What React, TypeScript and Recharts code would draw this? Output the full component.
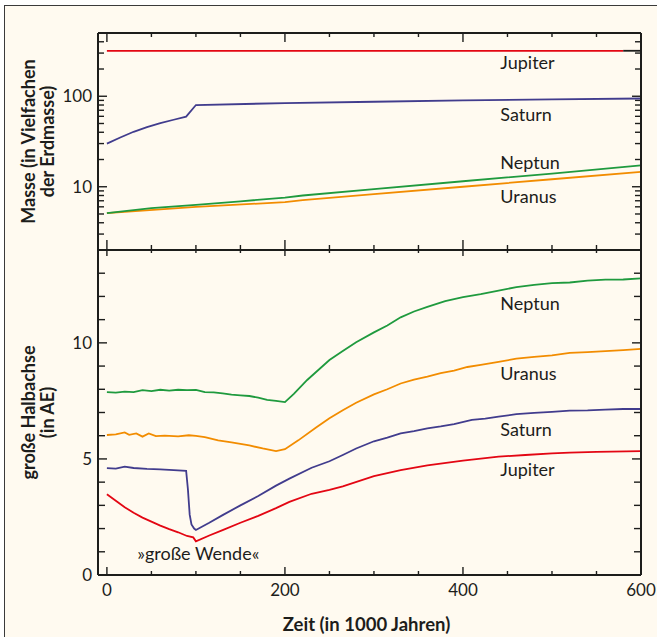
import React from "react";
import {
  LineChart,
  Line,
  XAxis,
  YAxis,
  ReferenceDot,
  ReferenceLine,
} from "recharts";

// time axis, 1000 years
const xTicks = [0, 50, 100, 150, 200, 250, 300, 350, 400, 450, 500, 550, 600];
const xMajorTicks = [0, 200, 400, 600];

// top panel: mass in earth masses (log)
const massTicks = [3, 4, 5, 6, 7, 8, 9, 10, 20, 30, 40, 50, 60, 70, 80, 90, 100, 200, 300, 400];
const massMajorTicks = [10, 100];

const jupiterMass = [
  { x: 0, v: 318 },
  { x: 580, v: 318 },
];
const jupiterMassEnd = [
  { x: 580, v: 318 },
  { x: 600, v: 318 },
];
const saturnMass = [
  { x: 0, v: 30 }, { x: 15, v: 35 }, { x: 30, v: 40.5 }, { x: 45, v: 45.5 },
  { x: 60, v: 50.5 }, { x: 75, v: 55 }, { x: 89, v: 59.5 }, { x: 100, v: 80 },
  { x: 200, v: 84 }, { x: 300, v: 87 }, { x: 400, v: 90 }, { x: 500, v: 92.5 },
  { x: 600, v: 94.5 },
];
const neptunMass = [
  { x: 0, v: 5.1 }, { x: 50, v: 5.8 }, { x: 100, v: 6.3 }, { x: 150, v: 6.9 },
  { x: 200, v: 7.6 }, { x: 220, v: 8.0 }, { x: 300, v: 9.4 }, { x: 400, v: 11.5 },
  { x: 500, v: 14.0 }, { x: 600, v: 17.2 },
];
const uranusMass = [
  { x: 0, v: 5.1 }, { x: 100, v: 6.0 }, { x: 200, v: 6.75 }, { x: 220, v: 7.1 },
  { x: 300, v: 8.3 }, { x: 400, v: 10.0 }, { x: 500, v: 12.1 }, { x: 600, v: 14.6 },
];

// bottom panel: semi-major axis in AU
const auTicks = [1, 2, 3, 4, 5, 6, 7, 8, 9, 10, 11, 12, 13];
const auMajorTicks = [5, 10];
const auLabelTicks = [0, 5, 10];

const neptunAxis = [
  { x: 0, v: 7.88 }, { x: 10, v: 7.86 }, { x: 20, v: 7.9 }, { x: 30, v: 7.88 },
  { x: 40, v: 7.96 }, { x: 50, v: 7.92 }, { x: 60, v: 7.98 }, { x: 70, v: 7.94 },
  { x: 80, v: 7.98 }, { x: 90, v: 7.96 }, { x: 100, v: 7.97 }, { x: 110, v: 7.88 },
  { x: 120, v: 7.87 }, { x: 130, v: 7.82 }, { x: 140, v: 7.77 }, { x: 150, v: 7.74 },
  { x: 160, v: 7.71 }, { x: 170, v: 7.64 }, { x: 180, v: 7.54 }, { x: 190, v: 7.5 },
  { x: 200, v: 7.45 }, { x: 210, v: 7.8 }, { x: 225, v: 8.4 }, { x: 250, v: 9.26 },
  { x: 265, v: 9.65 }, { x: 280, v: 10.03 }, { x: 300, v: 10.45 }, { x: 315, v: 10.75 },
  { x: 330, v: 11.1 }, { x: 345, v: 11.35 }, { x: 360, v: 11.55 }, { x: 380, v: 11.8 },
  { x: 400, v: 11.97 }, { x: 420, v: 12.1 }, { x: 440, v: 12.25 }, { x: 460, v: 12.4 },
  { x: 480, v: 12.5 }, { x: 500, v: 12.57 }, { x: 520, v: 12.6 }, { x: 540, v: 12.68 },
  { x: 560, v: 12.72 }, { x: 580, v: 12.73 }, { x: 600, v: 12.78 },
];
const uranusAxis = [
  { x: 0, v: 6.03 }, { x: 10, v: 6.06 }, { x: 20, v: 6.14 }, { x: 25, v: 6.04 },
  { x: 33, v: 6.1 }, { x: 40, v: 5.96 }, { x: 47, v: 6.1 }, { x: 55, v: 5.98 },
  { x: 65, v: 6.0 }, { x: 80, v: 5.97 }, { x: 92, v: 6.02 }, { x: 100, v: 5.99 },
  { x: 110, v: 5.94 }, { x: 125, v: 5.8 }, { x: 140, v: 5.71 }, { x: 160, v: 5.58 },
  { x: 175, v: 5.45 }, { x: 190, v: 5.34 }, { x: 200, v: 5.42 }, { x: 215, v: 5.8 },
  { x: 235, v: 6.35 }, { x: 250, v: 6.75 }, { x: 265, v: 7.1 }, { x: 280, v: 7.42 },
  { x: 300, v: 7.78 }, { x: 315, v: 8.0 }, { x: 330, v: 8.25 }, { x: 345, v: 8.42 },
  { x: 360, v: 8.55 }, { x: 375, v: 8.7 }, { x: 390, v: 8.8 }, { x: 405, v: 8.96 },
  { x: 420, v: 9.05 }, { x: 440, v: 9.18 }, { x: 460, v: 9.32 }, { x: 480, v: 9.4 },
  { x: 500, v: 9.46 }, { x: 520, v: 9.57 }, { x: 540, v: 9.6 }, { x: 560, v: 9.64 },
  { x: 580, v: 9.69 }, { x: 600, v: 9.74 },
];
const saturnAxis = [
  { x: 0, v: 4.6 }, { x: 10, v: 4.58 }, { x: 20, v: 4.67 }, { x: 30, v: 4.61 },
  { x: 45, v: 4.57 }, { x: 60, v: 4.55 }, { x: 75, v: 4.52 }, { x: 89, v: 4.49 },
  { x: 91, v: 3.7 }, { x: 93, v: 2.6 }, { x: 95, v: 2.18 }, { x: 98, v: 2.0 },
  { x: 100, v: 1.94 }, { x: 115, v: 2.25 }, { x: 130, v: 2.58 }, { x: 150, v: 3.0 },
  { x: 170, v: 3.4 }, { x: 190, v: 3.85 }, { x: 205, v: 4.15 }, { x: 230, v: 4.62 },
  { x: 250, v: 4.9 }, { x: 265, v: 5.17 }, { x: 280, v: 5.45 }, { x: 300, v: 5.76 },
  { x: 315, v: 5.92 }, { x: 330, v: 6.1 }, { x: 345, v: 6.2 }, { x: 360, v: 6.32 },
  { x: 375, v: 6.4 }, { x: 390, v: 6.5 }, { x: 410, v: 6.68 }, { x: 425, v: 6.74 },
  { x: 440, v: 6.82 }, { x: 460, v: 6.93 }, { x: 480, v: 6.98 }, { x: 500, v: 7.03 },
  { x: 520, v: 7.08 }, { x: 540, v: 7.09 }, { x: 560, v: 7.12 }, { x: 580, v: 7.15 },
  { x: 600, v: 7.15 },
];
const jupiterAxis = [
  { x: 0, v: 3.48 }, { x: 10, v: 3.2 }, { x: 20, v: 2.92 }, { x: 30, v: 2.68 },
  { x: 40, v: 2.47 }, { x: 50, v: 2.3 }, { x: 60, v: 2.13 }, { x: 70, v: 1.98 },
  { x: 80, v: 1.84 }, { x: 90, v: 1.68 }, { x: 97, v: 1.62 }, { x: 100, v: 1.45 },
  { x: 115, v: 1.7 }, { x: 130, v: 1.93 }, { x: 150, v: 2.25 }, { x: 170, v: 2.55 },
  { x: 190, v: 2.88 }, { x: 205, v: 3.15 }, { x: 230, v: 3.5 }, { x: 250, v: 3.67 },
  { x: 265, v: 3.82 }, { x: 300, v: 4.26 }, { x: 330, v: 4.52 }, { x: 360, v: 4.72 },
  { x: 400, v: 4.93 }, { x: 440, v: 5.1 }, { x: 470, v: 5.17 }, { x: 500, v: 5.24 },
  { x: 520, v: 5.27 }, { x: 550, v: 5.3 }, { x: 600, v: 5.34 },
];

// label anchors (x, value)
const massLabels = [
  { name: "Jupiter", x: 442, v: 237 },
  { name: "Saturn", x: 442, v: 63 },
  { name: "Neptun", x: 442, v: 18.8 },
  { name: "Uranus", x: 442, v: 8.0 },
];
const auLabels = [
  { name: "Neptun", x: 442, v: 11.7 },
  { name: "Uranus", x: 442, v: 8.72 },
  { name: "Saturn", x: 442, v: 6.3 },
  { name: "Jupiter", x: 442, v: 4.55 },
];
const turnLabel = { name: "»große Wende«", x: 34, v: 0.95 };

const RED = "#e30613";
const PURPLE = "#413c8d";
const GREEN = "#1f9a3e";
const ORANGE = "#f28c00";
const INK = "#1d1d1b";
const FONT = "Lato, sans-serif";
const W = 657;
const X_DOMAIN = [-10, 600];

const frame = { stroke: INK, strokeWidth: 2 };
const tickText = { fill: INK, fontSize: 17, fontFamily: FONT };

function YTitle(props: any) {
  const { viewBox, lines } = props;
  const cy = viewBox.y + viewBox.height / 2;
  return (
    <g>
      {lines.map((t: string, i: number) => (
        <text
          key={t}
          x={28 + i * 19}
          y={cy}
          transform={`rotate(-90 ${28 + i * 19} ${cy})`}
          textAnchor="middle"
          dominantBaseline="central"
          fontSize={18}
          fontWeight={700}
          fill={INK}
          fontFamily={FONT}
        >
          {t}
        </text>
      ))}
    </g>
  );
}

function XTitle(props: any) {
  const { viewBox } = props;
  return (
    <text
      x={viewBox.x + viewBox.width / 2 - 3}
      y={viewBox.y + 49}
      textAnchor="middle"
      dominantBaseline="central"
      fontSize={18.5}
      fontWeight={700}
      fill={INK}
      fontFamily={FONT}
    >
      Zeit (in 1000 Jahren)
    </text>
  );
}

const TextMark = (name: string) => (props: any) => (
  <text x={props.cx} y={props.cy} dominantBaseline="central" fontSize={18} fill={INK} fontFamily={FONT}>
    {name}
  </text>
);

// inward tick marks on both edges of a panel, placed by the reference line's own scale
const HTicks = (len: number) => (p: any) => {
  const a = Math.min(p.x1, p.x2);
  const b = Math.max(p.x1, p.x2);
  return (
    <g stroke={INK} strokeWidth={1.4}>
      <line x1={a} x2={a + len} y1={p.y1} y2={p.y1} />
      <line x1={b - len} x2={b} y1={p.y1} y2={p.y1} />
    </g>
  );
};
const VTicks = (top: number, bottom: number) => (p: any) => {
  const a = Math.min(p.y1, p.y2);
  const b = Math.max(p.y1, p.y2);
  return (
    <g stroke={INK} strokeWidth={1.4}>
      {top > 0 && <line x1={p.x1} x2={p.x1} y1={a} y2={a + top} />}
      <line x1={p.x1} x2={p.x1} y1={b - bottom} y2={b} />
    </g>
  );
};

export default function App() {
  const series = { xAxisId: "b", yAxisId: "l", dataKey: "v", strokeWidth: 1.8, dot: false, isAnimationActive: false };
  const ref = { xAxisId: "b", yAxisId: "l", ifOverflow: "visible" as const };
  return (
    <div style={{ position: "absolute", left: 0, top: 0, width: W, height: 637, overflow: "hidden", background: "#fff" }}>
      <div
        style={{
          position: "absolute",
          left: 4,
          top: 5,
          width: 680,
          height: 660,
          border: "1.5px solid #3a3a3a",
          background: "#fffaf0",
        }}
      />
      <div style={{ position: "absolute", left: 0, top: 0 }}>
        <LineChart width={W} height={252} margin={{ top: 33, right: 16, bottom: 2, left: 0 }}>
          <XAxis xAxisId="b" orientation="bottom" mirror type="number" dataKey="x" domain={X_DOMAIN}
            ticks={xTicks} interval={0} allowDataOverflow tick={false} tickLine={false} axisLine={frame} />
          <XAxis xAxisId="t" orientation="top" mirror type="number" dataKey="x" domain={X_DOMAIN}
            ticks={xTicks} interval={0} allowDataOverflow tick={false} tickLine={false} axisLine={frame} />
          <YAxis yAxisId="l" scale="log" type="number" domain={[2, 500]} ticks={massMajorTicks} interval={0}
            allowDataOverflow width={98} tickSize={0} tickMargin={6} tickLine={false} axisLine={frame}
            tick={tickText} label={<YTitle lines={["Masse (in Vielfachen", "der Erdmasse)"]} />} />
          <YAxis yAxisId="r" orientation="right" mirror scale="log" type="number" domain={[2, 500]}
            ticks={massMajorTicks} interval={0} allowDataOverflow tick={false} tickLine={false} axisLine={frame} />
          {massTicks.map((t) => (
            <ReferenceLine key={`m${t}`} {...ref} y={t} shape={HTicks(massMajorTicks.includes(t) ? 9 : 6)} />
          ))}
          {xTicks.map((t) => (
            <ReferenceLine key={`x${t}`} {...ref} x={t}
              shape={xMajorTicks.includes(t) ? VTicks(9, 10) : VTicks(4, 5)} />
          ))}
          <Line {...series} data={jupiterMass} stroke={RED} />
          <Line {...series} data={jupiterMassEnd} stroke={INK} />
          <Line {...series} data={saturnMass} stroke={PURPLE} />
          <Line {...series} data={uranusMass} stroke={ORANGE} />
          <Line {...series} data={neptunMass} stroke={GREEN} />
          {massLabels.map((l) => (
            <ReferenceDot key={l.name} xAxisId="b" yAxisId="l" x={l.x} y={l.v} r={0} shape={TextMark(l.name)} />
          ))}
        </LineChart>
      </div>
      <div style={{ position: "absolute", left: 0, top: 248 }}>
        <LineChart width={W} height={389} margin={{ top: 2, right: 16, bottom: 0, left: 0 }}>
          <XAxis xAxisId="b" type="number" dataKey="x" domain={X_DOMAIN} ticks={xMajorTicks} interval={0}
            allowDataOverflow height={62} tickSize={0} tickMargin={9} tickLine={false} axisLine={frame}
            tick={tickText} label={<XTitle />} />
          <XAxis xAxisId="t" orientation="top" mirror type="number" dataKey="x" domain={X_DOMAIN}
            ticks={xTicks} interval={0} allowDataOverflow tick={false} tickLine={false} axisLine={frame} />
          <YAxis yAxisId="l" type="number" domain={[0, 14]} ticks={auLabelTicks} interval={0}
            allowDataOverflow width={98} tickSize={0} tickMargin={6} tickLine={false} axisLine={frame}
            tick={tickText} label={<YTitle lines={["große Halbachse", "(in AE)"]} />} />
          <YAxis yAxisId="r" orientation="right" mirror type="number" domain={[0, 14]}
            ticks={auLabelTicks} interval={0} allowDataOverflow tick={false} tickLine={false} axisLine={frame} />
          {auTicks.map((t) => (
            <ReferenceLine key={`a${t}`} {...ref} y={t} shape={HTicks(auMajorTicks.includes(t) ? 9 : 7)} />
          ))}
          {xTicks.map((t) => (
            <ReferenceLine key={`x${t}`} {...ref} x={t}
              shape={xMajorTicks.includes(t) ? VTicks(6, 8) : VTicks(3, 4)} />
          ))}
          <Line {...series} data={neptunAxis} stroke={GREEN} />
          <Line {...series} data={uranusAxis} stroke={ORANGE} />
          <Line {...series} data={saturnAxis} stroke={PURPLE} />
          <Line {...series} data={jupiterAxis} stroke={RED} />
          {auLabels.map((l) => (
            <ReferenceDot key={l.name} xAxisId="b" yAxisId="l" x={l.x} y={l.v} r={0} shape={TextMark(l.name)} />
          ))}
          <ReferenceDot xAxisId="b" yAxisId="l" x={turnLabel.x} y={turnLabel.v} r={0} shape={TextMark(turnLabel.name)} />
        </LineChart>
      </div>
    </div>
  );
}
